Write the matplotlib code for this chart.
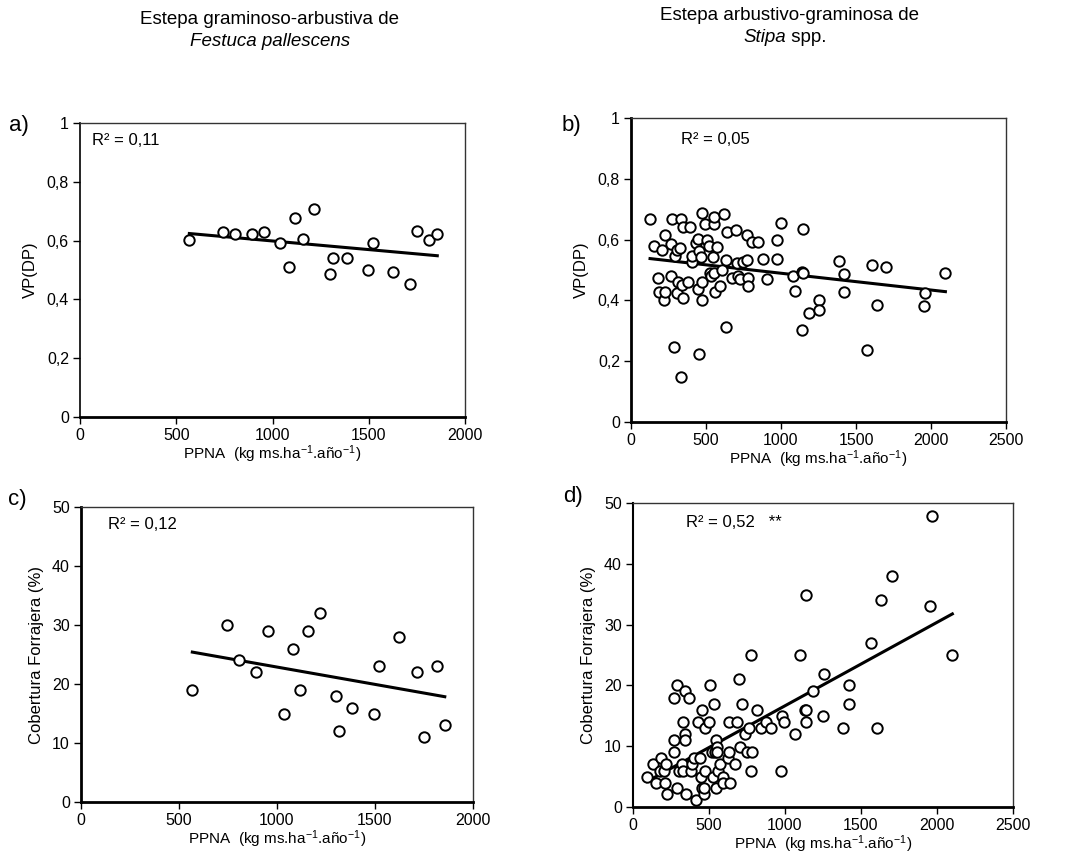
import matplotlib
matplotlib.use('Agg')
import matplotlib.pyplot as plt
from matplotlib.ticker import FuncFormatter
import numpy as np

plt.rcParams['font.family'] = ['Liberation Sans', 'DejaVu Sans']
plt.rcParams['mathtext.fontset'] = 'custom'
plt.rcParams['mathtext.rm'] = 'Liberation Sans'
plt.rcParams['mathtext.it'] = 'Liberation Sans:italic'

# Festuca pallescens (a, c)
ppna_fest = [568, 743, 807, 895, 956, 1037, 1084, 1115, 1157, 1217,
             1299, 1314, 1385, 1496, 1520, 1624, 1713, 1751, 1815, 1856]
vp_fest = [0.601, 0.628, 0.624, 0.624, 0.628, 0.591, 0.510, 0.677, 0.607, 0.709,
           0.488, 0.542, 0.542, 0.499, 0.591, 0.493, 0.451, 0.633, 0.601, 0.622]
cob_fest = [19, 30, 24, 22, 29, 15, 26, 19, 29, 32,
            18, 12, 16, 15, 23, 28, 22, 11, 23, 13]

# Stipa spp. (b)
ppna_stipa_b = [127, 156, 178, 187, 207, 218, 227, 229, 267, 269, 276, 287, 293, 304,
                313, 309, 327, 336, 338, 336, 344, 349, 378, 393, 404, 409, 433, 444,
                449, 453, 456, 467, 473, 473, 473, 493, 504, 522, 527, 536, 544, 553,
                553, 556, 560, 571, 593, 604, 620, 633, 633, 642, 671, 700, 709, 713,
                727, 744, 771, 771, 782, 782, 809, 849, 882, 909, 976, 976, 1000, 1078,
                1096, 1138, 1138, 1144, 1149, 1187, 1256, 1256, 1384, 1420, 1420, 1571,
                1609, 1642, 1700, 1962, 1956, 2096]
vp_stipa = [0.667, 0.579, 0.475, 0.429, 0.567, 0.401, 0.615, 0.429, 0.586, 0.480,
            0.667, 0.247, 0.547, 0.566, 0.459, 0.423, 0.574, 0.667, 0.451, 0.148,
            0.407, 0.643, 0.459, 0.643, 0.527, 0.546, 0.588, 0.436, 0.601, 0.225,
            0.563, 0.544, 0.687, 0.401, 0.459, 0.652, 0.599, 0.580, 0.491, 0.480,
            0.544, 0.652, 0.674, 0.491, 0.429, 0.577, 0.448, 0.500, 0.684, 0.533,
            0.313, 0.626, 0.473, 0.632, 0.522, 0.480, 0.469, 0.527, 0.533, 0.615,
            0.473, 0.448, 0.593, 0.593, 0.536, 0.469, 0.599, 0.536, 0.656, 0.480,
            0.432, 0.302, 0.495, 0.491, 0.635, 0.360, 0.401, 0.370, 0.531, 0.486,
            0.429, 0.236, 0.516, 0.385, 0.511, 0.423, 0.381, 0.491]

# Stipa spp. (d)
ppna_stipa_d = [94, 134, 151, 180, 184, 201, 212, 219, 223, 269, 271, 271, 289, 289,
                300, 320, 331, 331, 339, 339, 339, 348, 370, 381, 388, 401, 416, 425,
                444, 449, 453, 455, 464, 464, 475, 475, 497, 504, 519, 525, 534, 541,
                543, 543, 552, 552, 558, 574, 593, 595, 622, 630, 633, 639, 668, 681,
                698, 705, 718, 740, 749, 766, 777, 777, 781, 817, 843, 876, 906, 974,
                983, 992, 1068, 1099, 1129, 1136, 1136, 1138, 1187, 1252, 1254, 1379,
                1421, 1421, 1565, 1607, 1633, 1703, 1957, 1966, 2101]
cob_stipa = [4.9, 7.0, 3.9, 6.0, 8.1, 6.0, 3.9, 7.0, 2.1, 18.0, 9.1, 11.0, 20.0, 3.1,
             6.0, 7.0, 14.0, 6.0, 19.0, 12.0, 11.0, 2.1, 18.0, 6.0, 7.0, 8.1, 1.1, 14.0,
             8.1, 4.9, 3.1, 15.9, 2.1, 3.1, 13.0, 6.0, 14.0, 20.0, 9.1, 4.9, 16.9, 9.1,
             3.1, 11.0, 9.9, 9.1, 6.0, 7.0, 4.9, 3.9, 8.1, 9.1, 14.0, 3.9, 7.0, 14.0,
             21.0, 9.9, 16.9, 12.0, 9.1, 13.0, 25.0, 6.0, 9.1, 15.9, 13.0, 14.0, 13.0, 6.0,
             15.0, 14.0, 12.0, 25.0, 15.9, 14.0, 34.8, 15.9, 19.0, 15.0, 21.9, 13.0,
             20.0, 16.9, 27.0, 13.0, 34.1, 38.0, 33.0, 47.9, 25.0]

r2_labels = ['R² = 0,11', 'R² = 0,05', 'R² = 0,12', 'R² = 0,52   **']
xlab = 'PPNA  (kg ms.ha$^{-1}$.año$^{-1}$)'


def coma(v, pos):
    if v == int(v):
        return '%d' % v
    return ('%.1f' % v).replace('.', ',')


def panel(rect, x, y, xmax, ymax, ystep, ylab, letra, r2, r2x, r2y, ly, lw_left):
    ax = fig.add_axes(rect)
    ax.plot(x, y, 'o', mfc='white', mec='black', ms=7.5, mew=1.4, zorder=3)
    # recta de regresion
    b1, b0 = np.polyfit(x, y, 1)
    xx = np.array([min(x), max(x)])
    ax.plot(xx, b0 + b1 * xx, color='black', lw=2.2, zorder=2)
    ax.set_xlim(0, xmax)
    ax.set_ylim(0, ymax)
    ax.set_xticks(np.arange(0, xmax + 1, 500))
    ax.set_yticks(np.arange(0, ymax + ystep / 2, ystep))
    ax.yaxis.set_major_formatter(FuncFormatter(coma))
    ax.tick_params(direction='out', length=5, width=1, labelsize=11.5, pad=3)
    for s in ['top', 'right']:
        ax.spines[s].set_linewidth(1.0)
        ax.spines[s].set_color('#333333')
    ax.spines['left'].set_linewidth(lw_left)
    ax.spines['bottom'].set_linewidth(2)
    ax.set_xlabel(xlab, fontsize=11, labelpad=0)
    ax.set_ylabel(ylab, fontsize=12, labelpad=6)
    ax.text(r2x, r2y, r2, transform=ax.transAxes, fontsize=12, va='center')
    ax.text(-0.185, ly, letra, transform=ax.transAxes, fontsize=16, va='center')
    return ax


fig = plt.figure(figsize=(10.76, 8.56), dpi=100)
W, H = 1076.0, 856.0

panel([80 / W, 1 - 417 / H, 385 / W, 294 / H], ppna_fest, vp_fest, 2000, 1, 0.2,
      'VP(DP)', 'a)', r2_labels[0], 0.031, 0.94, 0.99, 1.2)
panel([631 / W, 1 - 422 / H, 375 / W, 304 / H], ppna_stipa_b, vp_stipa, 2500, 1, 0.2,
      'VP(DP)', 'b)', r2_labels[1], 0.133, 0.93, 0.975, 2)
panel([81 / W, 1 - 802 / H, 392 / W, 295 / H], ppna_fest, cob_fest, 2000, 50, 10,
      'Cobertura Forrajera (%)', 'c)', r2_labels[2], 0.069, 0.94, 1.024, 2)
panel([633 / W, 1 - 807 / H, 380 / W, 304 / H], ppna_stipa_d, cob_stipa, 2500, 50, 10,
      'Cobertura Forrajera (%)', 'd)', r2_labels[3], 0.14, 0.935, 1.02, 1.5)

# titulos de columna
fig.text(270 / W, 1 - 20 / H, 'Estepa graminoso-arbustiva de', ha='center', va='center', fontsize=13.5)
fig.text(270 / W, 1 - 42 / H, 'Festuca pallescens', ha='center', va='center', fontsize=13.5,
         style='italic')
fig.text(790 / W, 1 - 15 / H, 'Estepa arbustivo-graminosa de', ha='center', va='center', fontsize=13.5)
fig.text(786 / W, 1 - 37 / H, 'Stipa', ha='right', va='center', fontsize=13.5, style='italic')
fig.text(786 / W, 1 - 37 / H, ' spp.', ha='left', va='center', fontsize=13.5)

fig.savefig('out.png', dpi=100)
